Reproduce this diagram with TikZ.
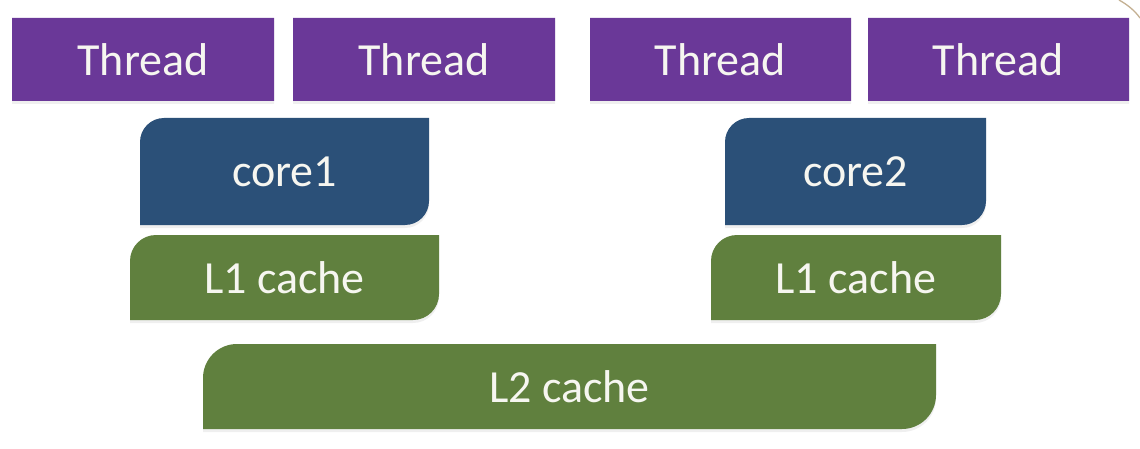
\documentclass[tikz,border=0pt]{standalone}
\usepackage{fontspec}
\setmainfont{Carlito}
\usetikzlibrary{shadows}
\definecolor{thrpurple}{RGB}{106,56,152}
\definecolor{coreblue}{RGB}{43,80,120}
\definecolor{cachegreen}{RGB}{96,128,62}
\definecolor{txtwhite}{RGB}{246,246,240}
\definecolor{arcbrown}{RGB}{196,176,146}
\tikzset{
  boxtext/.style={text=txtwhite, inner sep=0pt, font=\fontsize{46}{52}\selectfont},
  shade/.style={drop shadow={opacity=0.12, shadow xshift=0pt, shadow yshift=-3pt}},
}
% #1 name, #2 x1, #3 y1, #4 x2, #5 y2 (pixel coords, y down), #6 radius, #7 colour, #8 text
\newcommand\myshape[8]{%
  \fill[#7, shade] (#2,448-#5) -- (#2,{448-#3-#6}) arc[start angle=180, end angle=90, radius=#6]
     -- (#4,448-#3) -- (#4,{448-#5+#6}) arc[start angle=0, end angle=-90, radius=#6] -- cycle;
  \node[boxtext, minimum width={(#4-#2)*1pt}, minimum height={(#5-#3)*1pt}] (#1)
     at ({(#2+#4)/2},{448-(#3+#5)/2}) {#8};
}
\begin{document}
\begin{tikzpicture}[x=1pt,y=1pt]
\fill[white] (0,0) rectangle (1140,448);
\useasboundingbox (0,0) rectangle (1140,448);
% threads (plain rectangles)
\myshape{t1}{12}{18}{274}{101}{0.01}{thrpurple}{Thread}
\myshape{t2}{293}{18}{555}{101}{0.01}{thrpurple}{Thread}
\myshape{t3}{590}{18}{851}{101}{0.01}{thrpurple}{Thread}
\myshape{t4}{868}{18}{1129}{101}{0.01}{thrpurple}{Thread}
% cores
\myshape{core1}{140}{118}{429}{225}{24}{coreblue}{core1}
\myshape{core2}{725}{118}{986}{225}{24}{coreblue}{core2}
% L1 caches
\myshape{l1a}{130}{235}{439}{320}{26}{cachegreen}{L1 cache}
\myshape{l1b}{711}{235}{1001}{320}{26}{cachegreen}{L1 cache}
% L2 cache
\myshape{l2}{203}{344}{936}{429}{34}{cachegreen}{L2 cache}
% decorative arc at top right
\draw[arcbrown, line width=1.3pt] (1119,448) .. controls (1128,443) and (1135,437) .. (1140,430);
\end{tikzpicture}
\end{document}
